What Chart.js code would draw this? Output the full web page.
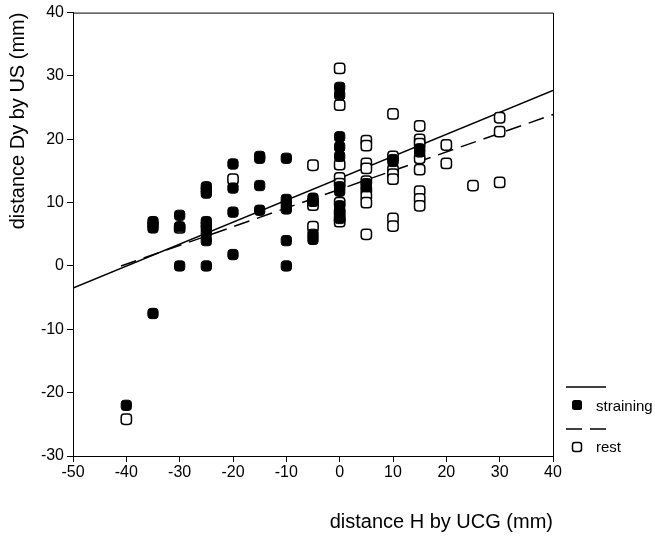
<!DOCTYPE html>
<html>
<head>
<meta charset="utf-8">
<script src="https://cdn.jsdelivr.net/npm/chart.js@4/dist/chart.umd.min.js"></script>
<style>
  html, body { margin: 0; padding: 0; background: #fff; }
  #wrap { width: 655px; height: 537px; }
</style>
</head>
<body>
<div id="wrap"><canvas id="chart"></canvas></div>
<script>
// straining (filled squares)
const strainX = [-40, -35, -35, -35, -35, -30, -30, -30,
    -25, -25, -25, -25, -25, -25, -25, -25, -25,
    -20, -20, -20, -20, -15, -15, -15, -15,
    -10, -10, -10, -10, -10, -10, -5, -5, -5, -5,
    0, 0, 0, 0, 0, 0, 0, 0, 0, 0,
    5, 5, 10, 10, 15, 15];
const strainY = [-22, 7, 6.5, 6, -7.5, 8, 6.2, 0,
    12.5, 12, 11.5, 7, 6.5, 6, 5.2, 4, 0,
    16.1, 12.3, 8.5, 1.8, 17.3, 17, 12.7, 8.8,
    17, 10.5, 9.8, 9, 4, 0, 10.7, 10.2, 5, 4.2,
    28.2, 27, 20.4, 18.8, 17.3, 12.5, 11.8, 9.5, 8.5, 7.5,
    13, 12.5, 16.8, 16.5, 18.5, 18];

// rest (open squares)
const restX = [-40, -30, -20, -5, -5, -5, -5,
    0, 0, 0, 0, 0, 0, 0, 0, 0,
    5, 5, 5, 5, 5, 5, 5, 5, 5,
    10, 10, 10, 10, 10, 10, 10,
    15, 15, 15, 15, 15, 15, 15, 15,
    20, 20, 25, 30, 30, 30];
const restY = [-24.2, 6, 13.7, 15.9, 10, 9.6, 6.2,
    31.2, 25.4, 16, 13.9, 13, 10, 8.5, 7.5, 7,
    19.8, 19, 16.2, 15.4, 13.4, 12, 11, 10, 5,
    24, 17.3, 15.2, 14.5, 13.7, 7.5, 6.3,
    22.1, 20, 19.3, 17, 15.2, 11.8, 10.6, 9.5,
    19.1, 16.2, 12.7, 23.4, 21.2, 13.2];

// regression lines (end points)
const strainFitX = [-50, 40];
const strainFitY = [-3.5, 27.7];
const restFitX = [-41, 40];
const restFitY = [0, 23.9];

const xTicks = [-50, -40, -30, -20, -10, 0, 10, 20, 30, 40];
const yTicks = [-30, -20, -10, 0, 10, 20, 30, 40];

const pts = (xs, ys) => xs.map((x, i) => ({ x: x, y: ys[i] }));

const FONT = 'Liberation Sans, Arial, sans-serif';

const frame = {
    id: 'frame',
    afterDatasetsDraw(chart) {
        const { ctx, chartArea: a } = chart;
        ctx.save();
        ctx.strokeStyle = '#000';
        ctx.lineWidth = 1;
        ctx.beginPath();
        ctx.moveTo(a.left, a.top + 0.5);
        ctx.lineTo(a.right + 0.5, a.top + 0.5);
        ctx.lineTo(a.right + 0.5, a.bottom);
        ctx.stroke();

        // legend on the right
        ctx.lineWidth = 1.5;
        ctx.beginPath();
        ctx.moveTo(566, 387);
        ctx.lineTo(606, 387);
        ctx.stroke();
        ctx.setLineDash([16, 8]);
        ctx.beginPath();
        ctx.moveTo(566, 429);
        ctx.lineTo(606, 429);
        ctx.stroke();
        ctx.setLineDash([]);

        ctx.fillStyle = '#000';
        ctx.beginPath();
        ctx.roundRect(572, 400, 10, 10, 2.5);
        ctx.fill();
        ctx.fillStyle = '#fff';
        ctx.beginPath();
        ctx.roundRect(572.5, 442.5, 9, 9, 2.5);
        ctx.fill();
        ctx.stroke();

        ctx.fillStyle = '#000';
        ctx.font = '15px ' + FONT;
        ctx.textBaseline = 'middle';
        ctx.fillText('straining', 596, 407);
        ctx.fillText('rest', 596, 448);
        ctx.restore();
    }
};

new Chart(document.getElementById('chart'), {
    data: {
        datasets: [
            {
                type: 'scatter',
                label: 'straining',
                data: pts(strainX, strainY),
                pointStyle: 'rectRounded',
                pointRadius: 6,
                backgroundColor: '#000',
                borderColor: '#000',
                borderWidth: 1,
                order: 1
            },
            {
                type: 'scatter',
                label: 'rest',
                data: pts(restX, restY),
                pointStyle: 'rectRounded',
                pointRadius: 6,
                backgroundColor: '#fff',
                borderColor: '#000',
                borderWidth: 1.5,
                order: 2
            },
            {
                type: 'line',
                label: 'straining fit',
                data: pts(strainFitX, strainFitY),
                borderColor: '#000',
                borderWidth: 1.5,
                pointRadius: 0,
                fill: false,
                order: 3
            },
            {
                type: 'line',
                label: 'rest fit',
                data: pts(restFitX, restFitY),
                borderColor: '#000',
                borderWidth: 1.5,
                borderDash: [16, 8],
                pointRadius: 0,
                fill: false,
                order: 4
            }
        ]
    },
    options: {
        responsive: true,
        maintainAspectRatio: false,
        animation: false,
        layout: { padding: { top: 8, right: 102, left: 0, bottom: 0 } },
        plugins: {
            legend: { display: false },
            tooltip: { enabled: false }
        },
        scales: {
            x: {
                type: 'linear',
                min: -50,
                max: 40,
                afterBuildTicks: s => { s.ticks = xTicks.map(v => ({ value: v })); },
                afterFit: s => { s.height = 81; },
                grid: { drawOnChartArea: false, color: '#000', tickLength: 6 },
                border: { color: '#000', width: 1 },
                ticks: { color: '#000', font: { family: FONT, size: 16 }, padding: 1, maxRotation: 0 },
                title: {
                    display: true,
                    text: 'distance H by UCG (mm)',
                    align: 'end',
                    color: '#000',
                    font: { family: FONT, size: 20 },
                    padding: { top: 0, bottom: 3 }
                }
            },
            y: {
                type: 'linear',
                min: -30,
                max: 40,
                afterBuildTicks: s => { s.ticks = yTicks.map(v => ({ value: v })); },
                afterFit: s => { s.width = 73; },
                grid: { drawOnChartArea: false, color: '#000', tickLength: 6 },
                border: { color: '#000', width: 1 },
                ticks: { color: '#000', font: { family: FONT, size: 16 }, padding: 3 },
                title: {
                    display: true,
                    text: 'distance Dy by US (mm)',
                    align: 'end',
                    color: '#000',
                    font: { family: FONT, size: 20 },
                    padding: { top: 6, bottom: 0 }
                }
            }
        }
    },
    plugins: [frame]
});
</script>
</body>
</html>
